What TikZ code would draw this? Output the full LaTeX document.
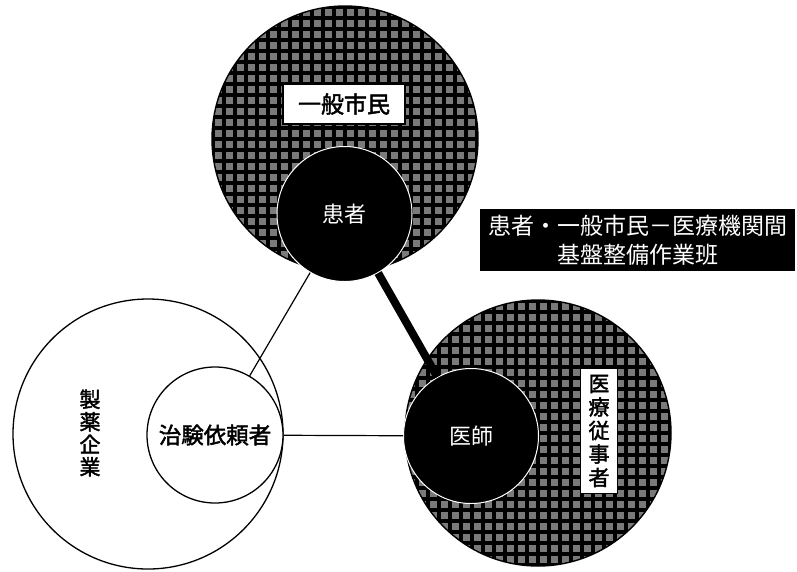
\documentclass[tikz,border=0pt]{standalone}
\usepackage{fontspec}
\newfontfamily\jp[AutoFakeBold=2]{Noto Sans CJK JP}
\tikzset{
  textured/.style={circle, draw=black, line width=1.4pt, inner sep=0pt,
    path picture={
      \fill[black!52] (path picture bounding box.south west) rectangle (path picture bounding box.north east);
      \draw[black, line width=3.6pt, step=11pt] (path picture bounding box.south west) grid (path picture bounding box.north east);
    }},
  blackdisc/.style={circle, fill=black, draw=white, line width=1pt, inner sep=0pt, minimum size=135pt,
    text=white, font=\jp\fontsize{22}{26}\selectfont},
  whitering/.style={circle, fill=white, draw=black, line width=1.3pt, inner sep=0pt},
  labelbox/.style={draw=black, fill=white, line width=1.2pt, inner sep=0pt, align=center},
  thinline/.style={line width=1.2pt},
  thickline/.style={line width=8pt}
}
\begin{document}
\begin{tikzpicture}[x=1pt,y=-1pt]
\useasboundingbox (0,0) rectangle (797,571);
% big textured circles
\node[textured, minimum size=266pt] (gen) at (345,139) {};
\node[textured, minimum size=266pt] (med) at (538,433) {};
% pharma circles
\node[whitering, minimum size=270pt] (pharma) at (148,434) {};
\node[whitering, minimum size=136pt, font=\jp\bfseries\fontsize{22.5}{26}\selectfont] (trial) at (215,435) {治験依頼者};
\node[font=\jp\bfseries\fontsize{21}{22.5}\selectfont, align=center, inner sep=0pt] (pharmalabel) at (90,433) {製\\薬\\企\\業};
% black discs
\node[blackdisc] (pat) at (344.5,214) {患者};
\node[blackdisc] (doc) at (471,436) {医師};
% labels
\node[labelbox, minimum width=122pt, minimum height=40pt, font=\jp\bfseries\fontsize{23}{26}\selectfont] (genlabel) at (344,104) {一般市民};
\node[labelbox, minimum width=37pt, minimum height=125pt, font=\jp\bfseries\fontsize{21}{23.5}\selectfont] (medlabel) at (599,431) {医\\療\\従\\事\\者};
% title
\node[fill=black, text=white, minimum width=315pt, minimum height=62pt, inner sep=0pt, align=center,
  font=\jp\fontsize{23}{29}\selectfont] (title) at (637.5,240) {患者・一般市民－医療機関間\\基盤整備作業班};
% connectors
\draw[thickline] (pat) -- (doc);
\draw[thinline] (pat) -- (trial);
\draw[thinline] (trial) -- (doc);
\end{tikzpicture}
\end{document}
